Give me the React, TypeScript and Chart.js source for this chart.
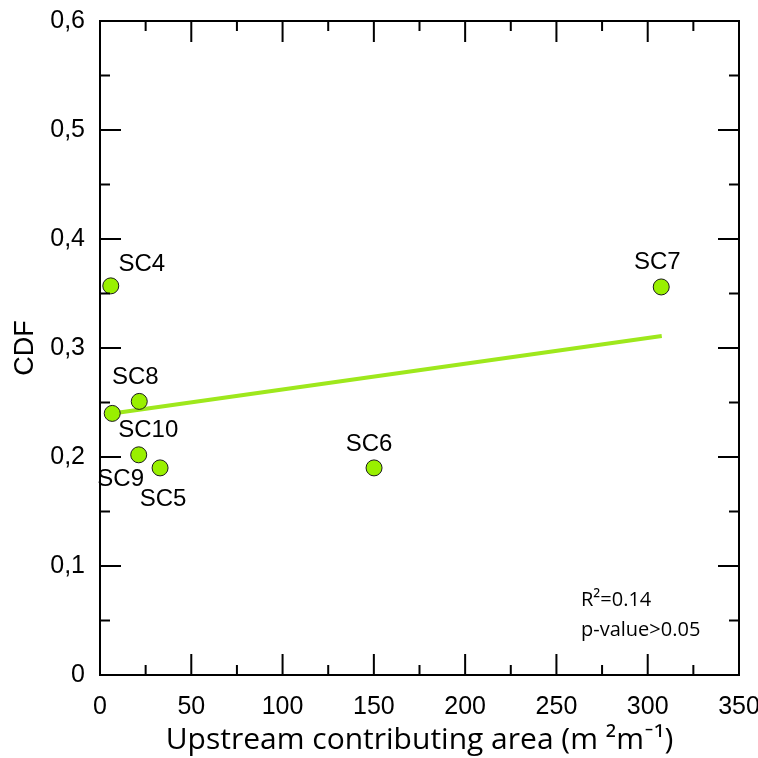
import React, { useEffect, useRef } from 'react';
import { Chart, registerables } from 'chart.js';

Chart.register(...registerables);

// ---- Data ----
const siteLabels = ['SC4', 'SC7', 'SC8', 'SC10', 'SC9', 'SC5', 'SC6'];
const areaValues = [5.9, 307.4, 21.5, 6.7, 21.2, 32.9, 150.1];
const cdfValues = [0.357, 0.356, 0.251, 0.240, 0.202, 0.190, 0.190];
const trendX = [6.7, 307.7];
const trendY = [0.240, 0.311];
const xTickValues = [0, 50, 100, 150, 200, 250, 300, 350];
const xMinorValues = [25, 75, 125, 175, 225, 275, 325];
const yTickValues = [0, 0.1, 0.2, 0.3, 0.4, 0.5, 0.6];
const yTickLabels = ['0', '0,1', '0,2', '0,3', '0,4', '0,5', '0,6'];
const yMinorValues = [0.05, 0.15, 0.25, 0.35, 0.45, 0.55];
const statsLines = ['R²=0.14', 'p-value>0.05'];
const xAxisTitle = 'Upstream contributing area (m ²m⁻¹)';
const yAxisTitle = 'CDF';

// ---- Styles ----
const POINT_FILL = '#99f000';
const LINE_COLOR = '#9ee81c';
const ARIAL = '"Liberation Sans", Arial, sans-serif';
const SANS = '"Open Sans", Lato, sans-serif';
// label offsets (px) relative to each point, by index
const labelOffsets: [number, number][] = [
  [31, -21], [-4, -25], [-4, -24], [36, 17], [-18, 25], [3, 31], [-5, -24],
];

const framePlugin = {
  id: 'frameTicks',
  afterDraw(chart: any) {
    const { ctx, chartArea: a, scales } = chart;
    const xs = scales.x, ys = scales.y;
    ctx.save();
    ctx.strokeStyle = '#000';
    ctx.lineWidth = 2;
    ctx.strokeRect(a.left, a.top, a.right - a.left, a.bottom - a.top);
    const MAJ = 21, MIN = 10;
    ctx.beginPath();
    const xt = (v: number, len: number) => {
      const p = xs.getPixelForValue(v);
      ctx.moveTo(p, a.bottom); ctx.lineTo(p, a.bottom - len);
      ctx.moveTo(p, a.top); ctx.lineTo(p, a.top + len);
    };
    const yt = (v: number, len: number) => {
      const p = ys.getPixelForValue(v);
      ctx.moveTo(a.left, p); ctx.lineTo(a.left + len, p);
      ctx.moveTo(a.right, p); ctx.lineTo(a.right - len, p);
    };
    xTickValues.forEach(v => xt(v, MAJ));
    xMinorValues.forEach(v => xt(v, MIN));
    yTickValues.forEach(v => yt(v, MAJ));
    yMinorValues.forEach(v => yt(v, MIN));
    ctx.stroke();

    // stats text
    ctx.fillStyle = '#000';
    ctx.font = `20px ${SANS}`;
    ctx.textAlign = 'left';
    ctx.textBaseline = 'middle';
    ctx.fillText(statsLines[0], a.left + 481, a.top + 579);
    ctx.fillText(statsLines[1], a.left + 481, a.top + 609);
    ctx.restore();
  },
  afterDatasetsDraw(chart: any) {
    const { ctx } = chart;
    const meta = chart.getDatasetMeta(0);
    ctx.save();
    ctx.fillStyle = '#000';
    ctx.font = `24px ${ARIAL}`;
    ctx.textAlign = 'center';
    ctx.textBaseline = 'middle';
    meta.data.forEach((pt: any, i: number) => {
      const [dx, dy] = labelOffsets[i];
      ctx.fillText(siteLabels[i], pt.x + dx, pt.y + dy);
    });
    ctx.restore();
  },
};

export default function App() {
  const ref = useRef<HTMLCanvasElement | null>(null);
  useEffect(() => {
    document.body.style.margin = '0';
    const canvas = ref.current;
    if (!canvas) return;
    const chart = new Chart(canvas, {
      type: 'scatter',
      data: {
        datasets: [
          {
            label: 'sites',
            data: areaValues.map((x, i) => ({ x, y: cdfValues[i] })),
            backgroundColor: POINT_FILL,
            borderColor: '#1a1a1a',
            borderWidth: 1,
            pointRadius: 8,
            order: 0,
          },
          {
            type: 'line',
            label: 'trend',
            data: trendX.map((x, i) => ({ x, y: trendY[i] })),
            borderColor: LINE_COLOR,
            borderWidth: 4,
            pointRadius: 0,
            showLine: true,
            fill: false,
            order: 1,
          } as any,
        ],
      },
      options: {
        responsive: false,
        animation: false,
        events: [],
        layout: { padding: { top: 21, right: 19, left: 0, bottom: 0 } },
        plugins: { legend: { display: false }, tooltip: { enabled: false } },
        scales: {
          x: {
            type: 'linear',
            min: 0,
            max: 350,
            border: { display: false },
            grid: { display: false, drawTicks: false },
            ticks: {
              stepSize: 50,
              padding: 17,
              color: '#000',
              font: { family: ARIAL, size: 25 },
              maxRotation: 0,
            },
            title: {
              display: true,
              text: xAxisTitle,
              color: '#000',
              font: { family: SANS, size: 30 },
              padding: { top: 0, bottom: 0 },
            },
            afterFit(s: any) {
              s.height = 83;
              s.paddingLeft = 0;
              s.paddingRight = 0;
            },
          },
          y: {
            type: 'linear',
            min: 0,
            max: 0.6,
            border: { display: false },
            grid: { display: false, drawTicks: false },
            ticks: {
              stepSize: 0.1,
              padding: 15,
              color: '#000',
              font: { family: ARIAL, size: 25 },
              callback: (v: any) => {
                const idx = yTickValues.findIndex(t => Math.abs(t - Number(v)) < 1e-6);
                return idx >= 0 ? yTickLabels[idx] : '';
              },
            },
            title: {
              display: true,
              text: yAxisTitle,
              color: '#000',
              font: { family: ARIAL, size: 27 },
              padding: { top: 9, bottom: 0 },
            },
            afterFit(s: any) {
              s.width = 100;
              s.paddingTop = 0;
              s.paddingBottom = 0;
            },
          },
        },
      },
      plugins: [framePlugin],
    });
    return () => chart.destroy();
  }, []);
  return (
    <div style={{ position: 'absolute', left: 0, top: 0, width: 758, height: 758 }}>
      <canvas ref={ref} width={758} height={758} style={{ width: 758, height: 758 }} />
    </div>
  );
}
